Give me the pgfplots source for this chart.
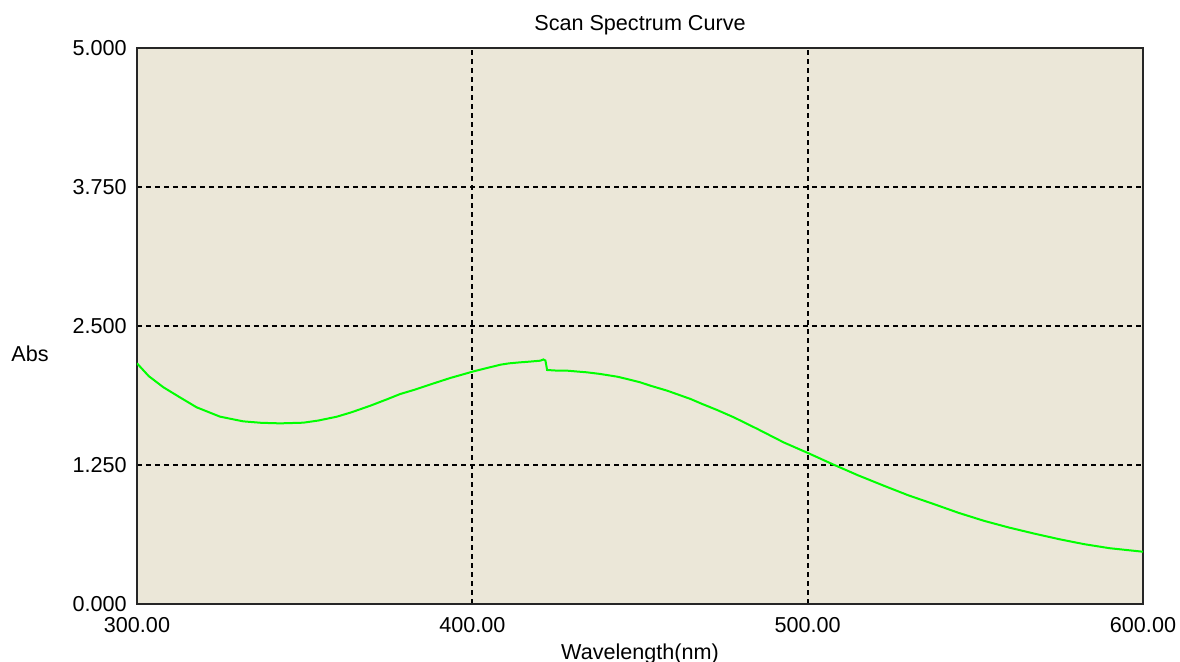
\documentclass[border=0pt]{standalone}
\usepackage{pgfplots}
\pgfplotsset{compat=1.18}
\usepackage{fontspec}
\setmainfont{Liberation Sans}
\definecolor{bgc}{RGB}{235,231,216}
\definecolor{curve}{RGB}{0,255,0}
\begin{document}
\begin{tikzpicture}
\path[use as bounding box] (0,0) rectangle (590pt,331pt);
\begin{axis}[
  at={(68.5pt,29pt)}, anchor=south west,
  scale only axis, width=503pt, height=277.9pt,
  xmin=300, xmax=600, ymin=0, ymax=5,
  xtick={300,400,500,600},
  xticklabels={300.00,400.00,500.00,600.00},
  ytick={0,1.25,2.5,3.75,5},
  yticklabels={0.000,1.250,2.500,3.750,5.000},
  major tick length=0pt,
  tick label style={font=\fontsize{10.8}{13}\selectfont},
  xticklabel style={anchor=base, yshift=-14.5pt},
  yticklabel style={anchor=east, inner sep=0pt, xshift=-5pt},
  grid=major,
  major grid style={black, line width=0.9pt, dash pattern=on 2.5pt off 2pt},
  axis line style={black!85, line width=1.2pt},
  axis background/.style={fill=bgc},
  every axis title shift=0pt,
  title={Scan Spectrum Curve},
  title style={font=\fontsize{10.8}{13}\selectfont, at={(axis description cs:0.5,1)}, anchor=base, yshift=9pt},
  xlabel={Wavelength(nm)},
  xlabel style={font=\fontsize{10.8}{13}\selectfont, at={(axis description cs:0.5,0)}, anchor=base, yshift=-28pt},
  ylabel={Abs},
  ylabel style={font=\fontsize{10.8}{13}\selectfont, rotate=-90, at={(axis description cs:0,0.437)}, anchor=base, xshift=-53.5pt},
]
\addplot[curve, line width=1pt] coordinates {
(300.0,2.165) (303.5,2.050) (307.9,1.949) (312.8,1.859) (317.8,1.769)
(324.8,1.685) (331.7,1.643) (337,1.630) (342.7,1.625) (349.6,1.631)
(354,1.650) (359.6,1.685) (364,1.725) (369.6,1.784) (374,1.835)
(378.5,1.889) (382.5,1.925) (388,1.980) (393.4,2.033) (400.4,2.093)
(404,2.120) (408.4,2.153) (411,2.165) (414.3,2.174) (417,2.180)
(420.3,2.189) (421.2,2.200) (421.8,2.190) (422.3,2.105)
(425,2.100) (428.3,2.099) (431,2.092) (434.2,2.084) (438,2.070)
(443.2,2.045) (446,2.025) (450.1,1.994) (453.1,1.964) (458.1,1.919)
(465.1,1.844) (468.1,1.805) (473,1.745) (478,1.679) (485,1.575)
(492.9,1.453) (500.4,1.354) (507.4,1.258) (515,1.158) (522.8,1.063)
(530,0.978) (537.7,0.898) (545,0.820) (552.6,0.748) (560,0.688)
(567.6,0.633) (575,0.583) (582.5,0.538) (590,0.502) (600,0.470)
};
\end{axis}
\end{tikzpicture}
\end{document}
